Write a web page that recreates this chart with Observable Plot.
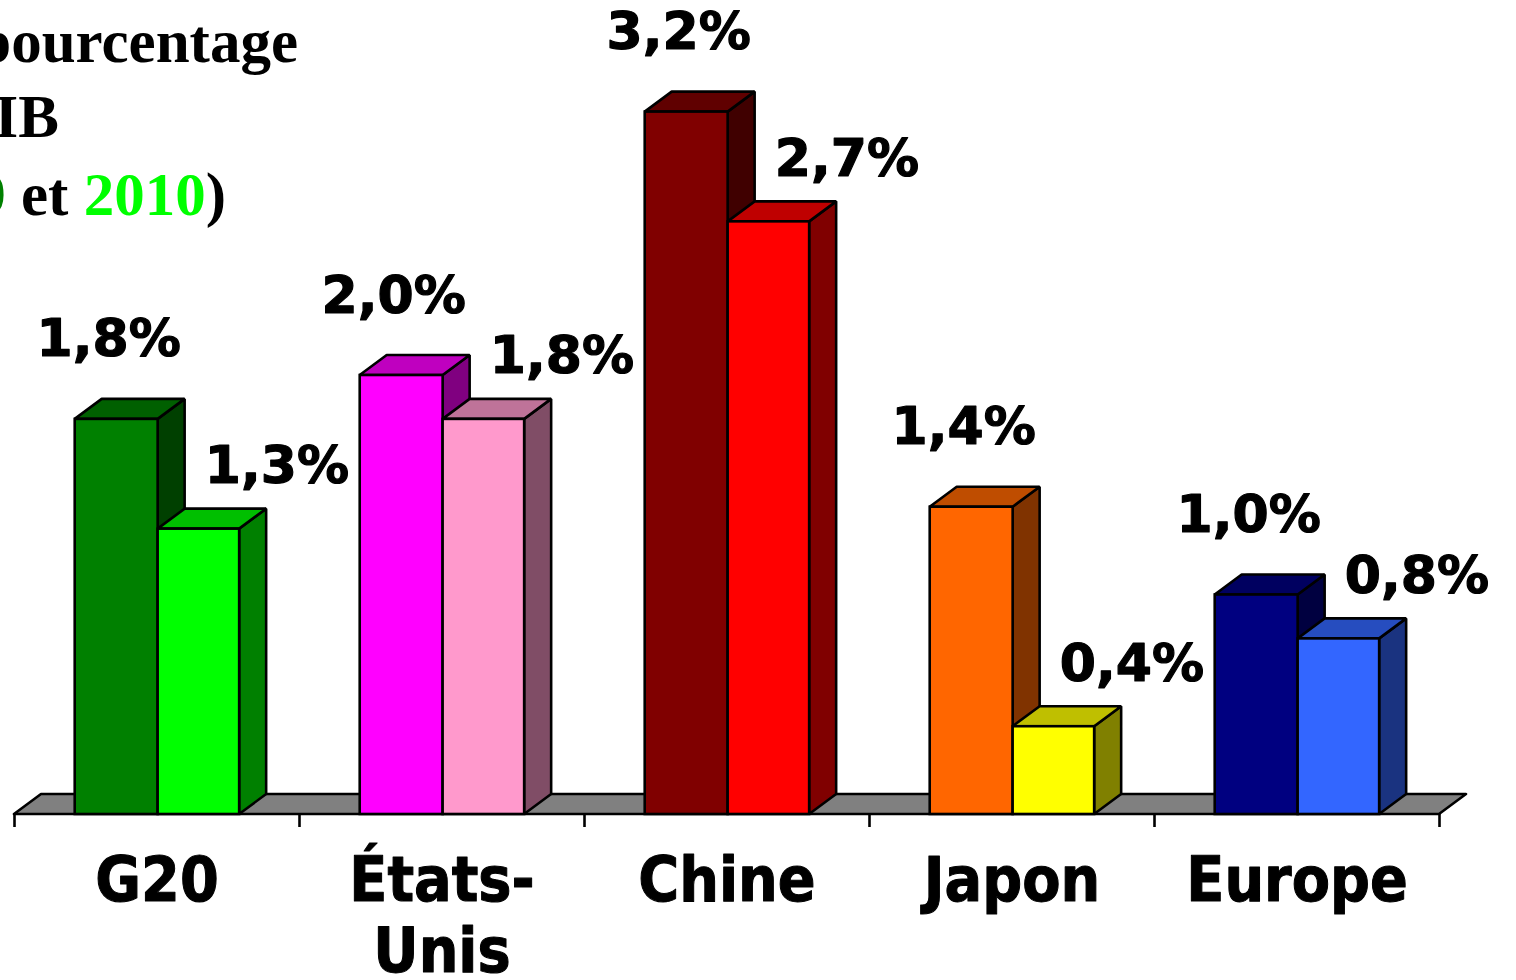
<!DOCTYPE html>
<html>
<head>
<meta charset="utf-8">
<script src="https://cdn.jsdelivr.net/npm/d3@7"></script>
<script src="https://cdn.jsdelivr.net/npm/@observablehq/plot@0.6"></script>
<style>
  html, body { margin: 0; padding: 0; background: #fff; }
  body { width: 1516px; height: 980px; position: relative; overflow: hidden; }
  #chart { position: absolute; left: 0; top: 0; }
  .tl { position: absolute; white-space: nowrap; text-align: right;
        font-family: "Liberation Serif", "DejaVu Serif", serif; font-weight: bold;
        font-size: 61px; line-height: 1; color: #000; }
</style>
</head>
<body>
<div id="chart"></div>
<div class="tl" style="right:1218px; top:11px;">pourcentage</div>
<div class="tl" style="right:1457px; top:86px;">du PIB</div>
<div class="tl" style="right:1290px; top:164px;">(<span style="color:#008000">2009</span> et <span style="color:#00FF00">2010</span>)</div>
<script>
// ---- data ----
const categories = ["G20", "États-Unis", "Chine", "Japon", "Europe"];
const categoryLabels = ["G20", "États-\nUnis", "Chine", "Japon", "Europe"];
const years = ["2009", "2010"];
const values2009 = [1.8, 2.0, 3.2, 1.4, 1.0];
const values2010 = [1.3, 1.8, 2.7, 0.4, 0.8];
const labels2009 = ["1,8%", "2,0%", "3,2%", "1,4%", "1,0%"];
const labels2010 = ["1,3%", "1,8%", "2,7%", "0,4%", "0,8%"];
const colors2009 = ["#008000", "#FF00FF", "#800000", "#FF6600", "#000080"];
const colors2010 = ["#00FF00", "#FF99CC", "#FF0000", "#FFFF00", "#3366FF"];

// ---- layout ----
const W = 1516, H = 980;
const mL = 14, mR = 77, mT = 0, mB = 166;
const pxPerUnit = 219.5;
const yMax = (H - mT - mB) / pxPerUnit;
const bandPx = (W - mL - mR) / categories.length;
const depthX = 27 / bandPx;       // depth offset in x units
const depthY = 20 / pxPerUnit;    // depth offset in y units
const barStart = [0.213, 0.504];
const barEnd = [0.504, 0.79];

function shade(c, k) {
  const r = d3.rgb(c);
  return d3.rgb(r.r * k, r.g * k, r.b * k).formatHex();
}

const bars = [];
years.forEach((yr, s) => {
  categories.forEach((c, i) => {
    const v = s ? values2010[i] : values2009[i];
    const front = s ? colors2010[i] : colors2009[i];
    bars.push({
      key: c + "-" + yr, s, i, v,
      label: s ? labels2010[i] : labels2009[i],
      x1: i + barStart[s], x2: i + barEnd[s],
      front, top: shade(front, 0.75), side: shade(front, 0.5)
    });
  });
});

function tops(s) {
  return bars.filter(b => b.s === s).flatMap(b => [
    {key: b.key, fill: b.top, y: b.v, xa: b.x1, xb: b.x2},
    {key: b.key, fill: b.top, y: b.v + depthY, xa: b.x1 + depthX, xb: b.x2 + depthX}
  ]);
}
function sides(s) {
  return bars.filter(b => b.s === s).flatMap(b => [
    {key: b.key, fill: b.side, x: b.x2, ya: 0, yb: b.v},
    {key: b.key, fill: b.side, x: b.x2 + depthX, ya: depthY, yb: b.v + depthY}
  ]);
}
function fronts(s) { return bars.filter(b => b.s === s); }

const n = categories.length;
const floor = [
  {y: 0, xa: 0, xb: n},
  {y: depthY, xa: depthX, xb: n + depthX}
];

const sw = 2.6;
const marks = [
  Plot.areaX(floor, {y: "y", x1: "xa", x2: "xb", fill: "#808080", stroke: "black", strokeWidth: sw}),
  Plot.ruleX(d3.range(n + 1), {y1: 0, y2: -13 / pxPerUnit, stroke: "black", strokeWidth: sw})
];
for (const s of [0, 1]) {
  marks.push(
    Plot.areaY(sides(s), {x: "x", y1: "ya", y2: "yb", z: "key", fill: "fill", stroke: "black", strokeWidth: sw, strokeLinejoin: "miter"}),
    Plot.areaX(tops(s), {y: "y", x1: "xa", x2: "xb", z: "key", fill: "fill", stroke: "black", strokeWidth: sw, strokeLinejoin: "miter"}),
    Plot.rect(fronts(s), {x1: "x1", x2: "x2", y1: 0, y2: "v", fill: "front", stroke: "black", strokeWidth: sw})
  );
}
// value labels
const valueFont = {lineAnchor: "bottom", fontSize: 52, fontWeight: "bold", fontFamily: "DejaVu Sans",
  fill: "black", stroke: "black", strokeWidth: 1.2};
marks.push(
  Plot.text(fronts(0), {x: d => (d.x1 + d.x2) / 2, y: "v", text: "label", dx: -8, dy: -63, ...valueFont}),
  Plot.text(fronts(1), {x: d => (d.x1 + d.x2) / 2, y: "v", text: "label", dx: 78, dy: -46, ...valueFont}),
  Plot.text(categoryLabels, {x: (d, i) => i + 0.5, y: 0, text: d => d, dy: 35, lineAnchor: "top",
    fontSize: 62, lineHeight: 1.16, fontWeight: "bold", fontFamily: "DejaVu Sans Condensed, DejaVu Sans",
    fill: "black", stroke: "black", strokeWidth: 1})
);

const chart = Plot.plot({
  width: W, height: H,
  marginLeft: mL, marginRight: mR, marginTop: mT, marginBottom: mB,
  x: {type: "linear", domain: [0, n], axis: null},
  y: {type: "linear", domain: [0, yMax], axis: null},
  style: {background: "white", overflow: "visible"},
  marks
});
document.getElementById("chart").appendChild(chart);
</script>
</body>
</html>
